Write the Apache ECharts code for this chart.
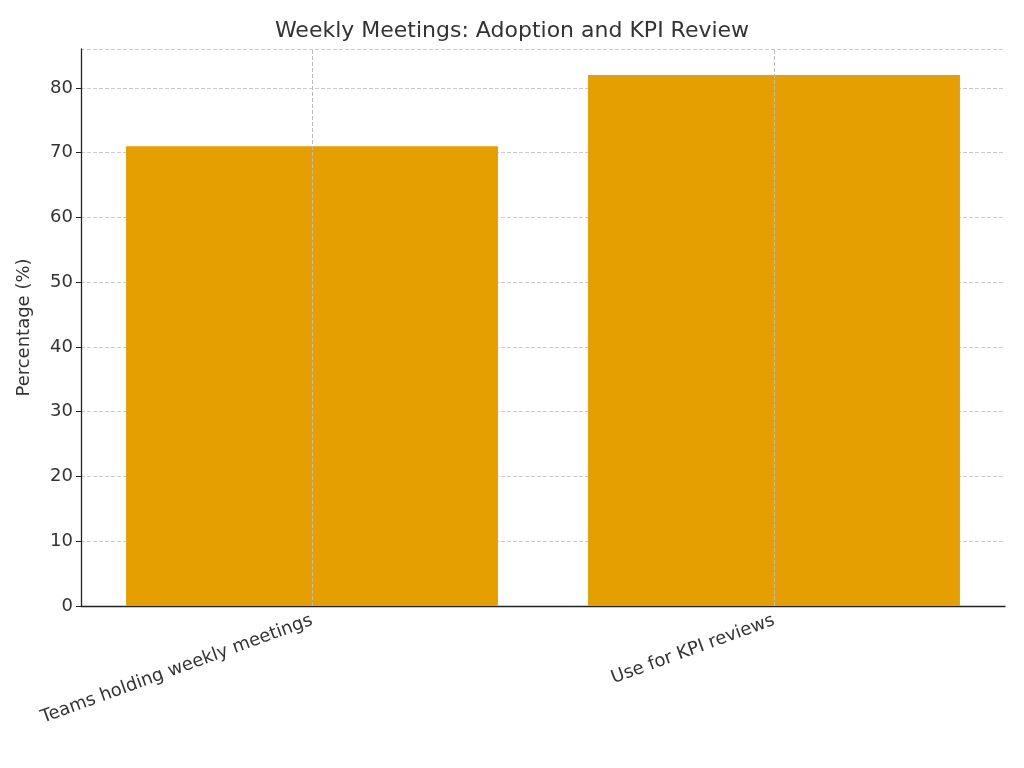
<!DOCTYPE html>
<html>
<head>
<meta charset="utf-8">
<script src="https://cdn.jsdelivr.net/npm/echarts@6/dist/echarts.min.js"></script>
<style>html,body{margin:0;padding:0;background:#fff}#c{width:1024px;height:768px}</style>
</head>
<body>
<div id="c"></div>
<script>
const categories = ['Teams holding weekly meetings', 'Use for KPI reviews'];
const values = [71, 82];

const chart = echarts.init(document.getElementById('c'));
const font = 'DejaVu Sans';
chart.setOption({
  animation: false,
  textStyle: { fontFamily: font },
  title: {
    text: 'Weekly Meetings: Adoption and KPI Review',
    left: 'center', top: 15,
    textStyle: { fontFamily: font, fontSize: 22, fontWeight: 'normal', color: '#333' }
  },
  grid: { left: 81, right: 19, top: 49, bottom: 162 },
  xAxis: {
    type: 'category',
    data: categories,
    axisLine: { lineStyle: { color: '#222', width: 1.3 } },
    axisTick: { alignWithLabel: true, length: -6, lineStyle: { color: '#222' } },
    axisLabel: { rotate: 20, fontSize: 18, color: '#333', margin: 14, interval: 0 },
    splitLine: { show: false }
  },
  yAxis: {
    type: 'value',
    min: 0, max: 86, interval: 10,
    name: 'Percentage (%)',
    nameLocation: 'middle', nameGap: 48,
    nameTextStyle: { fontSize: 18, color: '#333' },
    axisLine: { show: true, lineStyle: { color: '#222', width: 1.3 } },
    axisTick: { show: true, lineStyle: { color: '#222' } },
    axisLabel: { fontSize: 18, color: '#333', showMaxLabel: false },
    splitLine: { lineStyle: { type: 'dashed', color: '#ccc' } }
  },
  series: [{
    type: 'bar',
    data: values,
    barWidth: '80.5%',
    itemStyle: { color: '#E69F00' },
    z: 1,
    markLine: {
      silent: true, symbol: 'none', label: { show: false },
      lineStyle: { type: 'dashed', color: '#bbb', width: 1 },
      data: categories.map(c => ({ xAxis: c })),
      z: 3
    }
  }]
});
</script>
</body>
</html>
